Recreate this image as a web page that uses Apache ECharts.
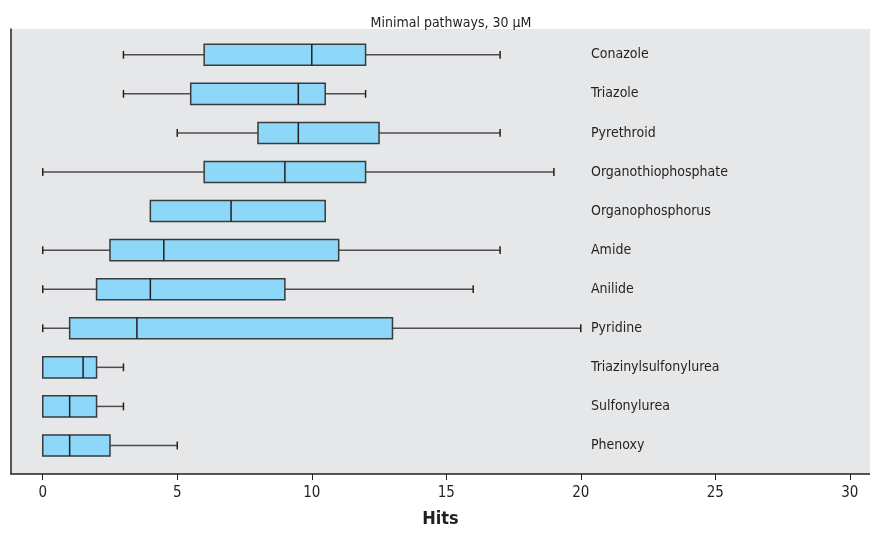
<!DOCTYPE html>
<html>
<head>
<meta charset="utf-8">
<script src="https://cdn.jsdelivr.net/npm/echarts@6/dist/echarts.min.js"></script>
<style>html,body{margin:0;padding:0;background:#fff}#c{width:870px;height:533px}</style>
</head>
<body>
<div id="c"></div>
<script>
const categories = ['Conazole','Triazole','Pyrethroid','Organothiophosphate','Organophosphorus','Amide','Anilide','Pyridine','Triazinylsulfonylurea','Sulfonylurea','Phenoxy'];
const whiskerLow  = [3, 3, 5, 0, 4, 0, 0, 0, 0, 0, 0];
const q1          = [6, 5.5, 8, 6, 4, 2.5, 2, 1, 0, 0, 0];
const median      = [10, 9.5, 9.5, 9, 7, 4.5, 4, 3.5, 1.5, 1, 1];
const q3          = [12, 10.5, 12.5, 12, 10.5, 11, 9, 13, 2, 2, 2.5];
const whiskerHigh = [17, 12, 17, 19, 10.5, 17, 16, 20, 3, 3, 5];
const xTicks = [0, 5, 10, 15, 20, 25, 30];
const rowIdx = categories.map((_, i) => i);

const FONT = '"DejaVu Sans Condensed","Liberation Sans",sans-serif';
const data = categories.map((c, i) => [i, whiskerLow[i], q1[i], median[i], q3[i], whiskerHigh[i]]);

const chart = echarts.init(document.getElementById('c'), null, {renderer: 'canvas'});
chart.setOption({
  animation: false,
  title: {
    text: 'Minimal pathways, 30 µM',
    left: 446, top: 11, textAlign: 'center',
    textStyle: {fontFamily: FONT, fontSize: 14, fontWeight: 'normal', color: '#231f20'}
  },
  grid: {left: 11, right: 0, top: 29, bottom: 54, show: true, backgroundColor: '#e6e7e8', borderWidth: 0},
  xAxis: {
    type: 'value', min: -1.18, max: 30.75,
    name: 'Hits', nameLocation: 'middle', nameGap: 36,
    nameTextStyle: {fontFamily: FONT, fontSize: 18, fontWeight: 'bold', color: '#231f20'},
    axisLine: {show: true, onZero: false, lineStyle: {color: '#231f20', width: 1.5}},
    axisTick: {show: true, length: 6, customValues: xTicks, lineStyle: {color: '#231f20', width: 1}},
    axisLabel: {customValues: xTicks, margin: 12, fontFamily: FONT, fontSize: 15, color: '#231f20'},
    splitLine: {show: false}
  },
  yAxis: {
    type: 'value', inverse: true, min: -0.66, max: 10.73,
    axisLine: {show: true, onZero: false, lineStyle: {color: '#231f20', width: 1.5}},
    axisTick: {show: false},
    splitLine: {show: false},
    axisLabel: {
      customValues: rowIdx, align: 'left', margin: -580,
      fontFamily: FONT, fontSize: 14, color: '#231f20',
      formatter: v => categories[v]
    }
  },
  series: [{
    type: 'custom',
    data: data,
    encode: {x: [1, 2, 3, 4, 5], y: 0},
    renderItem: function (params, api) {
      const i = api.value(0);
      const lo = api.value(1), a = api.value(2), m = api.value(3), b = api.value(4), hi = api.value(5);
      const pLo = api.coord([lo, i]), pA = api.coord([a, i]), pM = api.coord([m, i]), pB = api.coord([b, i]), pHi = api.coord([hi, i]);
      const unit = api.size([0, 1])[1];
      const hh = unit * 0.27;
      const ch = unit * 0.1;
      const y = pA[1];
      const whisk = {stroke: '#4d4d4f', lineWidth: 1.5};
      const cap = {stroke: '#231f20', lineWidth: 1.5};
      const children = [];
      if (lo < a) {
        children.push({type: 'line', shape: {x1: pLo[0], y1: y, x2: pA[0], y2: y}, style: whisk});
        children.push({type: 'line', shape: {x1: pLo[0], y1: y - ch, x2: pLo[0], y2: y + ch}, style: cap});
      }
      if (hi > b) {
        children.push({type: 'line', shape: {x1: pB[0], y1: y, x2: pHi[0], y2: y}, style: whisk});
        children.push({type: 'line', shape: {x1: pHi[0], y1: y - ch, x2: pHi[0], y2: y + ch}, style: cap});
      }
      children.push({type: 'rect', shape: {x: pA[0], y: y - hh, width: pB[0] - pA[0], height: hh * 2},
        style: {fill: '#8dd8f8', stroke: '#3a3a3c', lineWidth: 1.5}});
      children.push({type: 'line', shape: {x1: pM[0], y1: y - hh, x2: pM[0], y2: y + hh}, style: {stroke: '#231f20', lineWidth: 1.5}});
      return {type: 'group', children: children};
    }
  }]
});
</script>
</body>
</html>
